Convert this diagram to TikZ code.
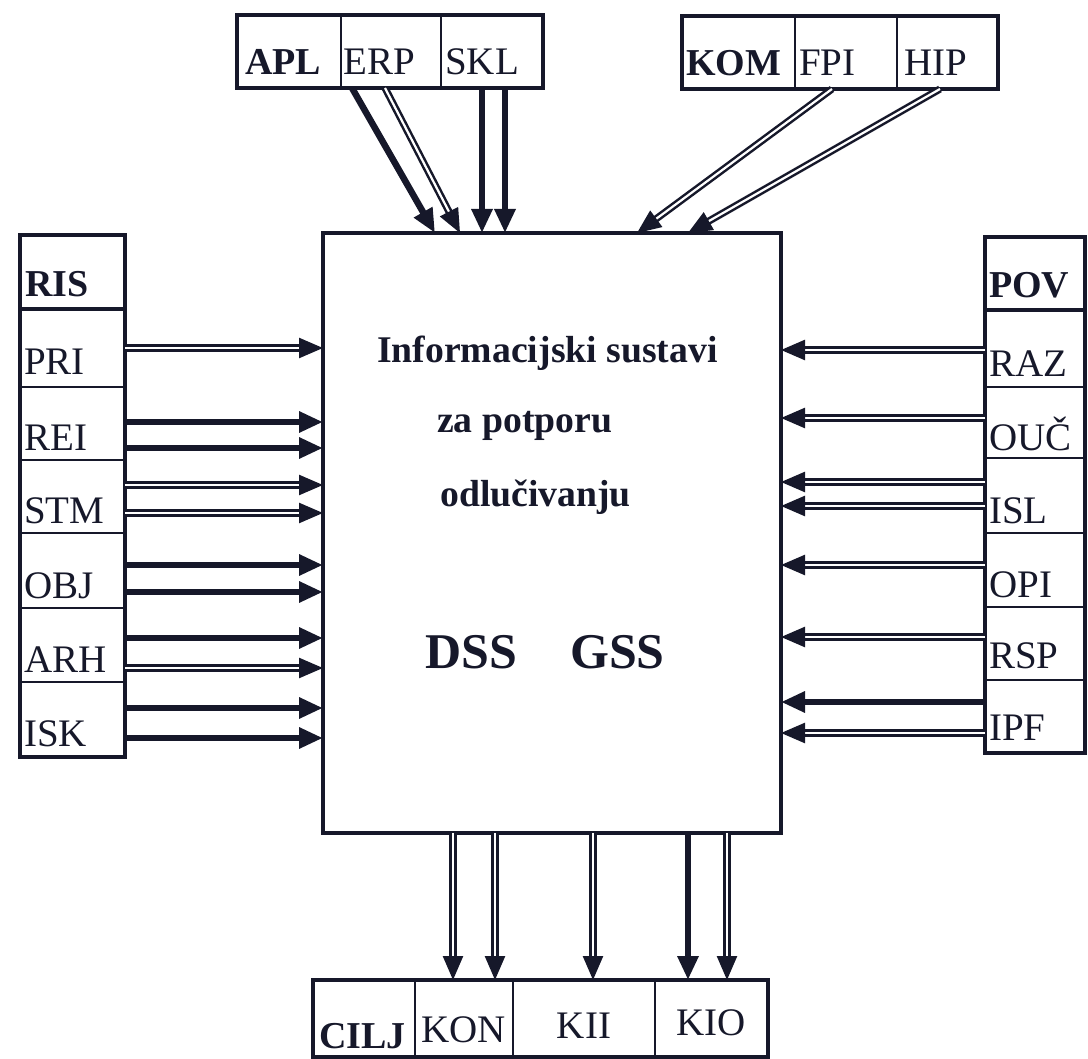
\documentclass[tikz,border=0pt]{standalone}
\usepackage{fontspec}
\setmainfont{Liberation Serif}
\usetikzlibrary{arrows.meta}
\definecolor{ink}{HTML}{16182A}
\begin{document}
\begin{tikzpicture}[x=1pt,y=-1pt,
  cell/.style={draw=ink, line width=2.2pt, inner sep=0pt, outer sep=0pt, anchor=north west},
  frame/.style={draw=ink, line width=3.4pt, inner sep=0pt, outer sep=0pt, anchor=north west},
  lbl/.style={text=ink, font=\fontsize{39}{42}\selectfont, inner sep=0pt, anchor=base west},
  blbl/.style={lbl, font=\fontsize{38}{42}\selectfont\bfseries},
  ctxt/.style={text=ink, font=\fontsize{37.7}{40}\selectfont\bfseries, inner sep=0pt, anchor=base west},
  btxt/.style={text=ink, font=\fontsize{50}{54}\selectfont\bfseries, inner sep=0pt, anchor=base west},
  tipstyle/.style={-{Triangle[length=24pt 0 0, width=20pt 0 0]}},
  dbl/.style={draw=ink, double=white, double distance=2.2pt, line width=2.5pt, tipstyle},
  thk/.style={draw=ink, line width=6.5pt, tipstyle}
]
\useasboundingbox (0,0) rectangle (1088,1059);

% main box
\node[draw=ink, line width=4pt, minimum width=458, minimum height=600, anchor=north west, inner sep=0pt, outer sep=0pt] (main) at (323,233) {};
\node[ctxt] (t1) at (377,363) {Informacijski sustavi};
\node[ctxt] (t2) at (437,432) {za potporu};
\node[ctxt] (t3) at (440,507) {odlučivanju};
\node[btxt] (dss) at (425,668) {DSS};
\node[btxt] (gss) at (570,668) {GSS};

% RIS column
\node[frame, minimum width=105, minimum height=74] (ris) at (20,235) {};
\node[cell, minimum width=105, minimum height=78] (pri) at (20,309) {};
\node[cell, minimum width=105, minimum height=73] (rei) at (20,387) {};
\node[cell, minimum width=105, minimum height=73] (stm) at (20,460) {};
\node[cell, minimum width=105, minimum height=75] (obj) at (20,533) {};
\node[cell, minimum width=105, minimum height=74] (arh) at (20,608) {};
\node[cell, minimum width=105, minimum height=75] (isk) at (20,682) {};
\node[frame, minimum width=105, minimum height=522] (riscol) at (20,235) {};
\node[blbl] (tris) at (25,297) {RIS};
\node[lbl] (tpri) at (24,375) {PRI};
\node[lbl] (trei) at (24,450) {REI};
\node[lbl] (tstm) at (24,523) {STM};
\node[lbl] (tobj) at (24,598) {OBJ};
\node[lbl] (tarh) at (24,672) {ARH};
\node[lbl] (tisk) at (24,746) {ISK};

% POV column
\node[frame, minimum width=100, minimum height=73] (pov) at (985,237) {};
\node[cell, minimum width=100, minimum height=77] (raz) at (985,310) {};
\node[cell, minimum width=100, minimum height=71] (ouc) at (985,387) {};
\node[cell, minimum width=100, minimum height=75] (isl) at (985,458) {};
\node[cell, minimum width=100, minimum height=74] (opi) at (985,533) {};
\node[cell, minimum width=100, minimum height=73] (rsp) at (985,607) {};
\node[cell, minimum width=100, minimum height=73] (ipf) at (985,680) {};
\node[frame, minimum width=100, minimum height=516] (povcol) at (985,237) {};
\node[blbl] (tpov) at (989,298) {POV};
\node[lbl] (traz) at (989,377) {RAZ};
\node[lbl] (touc) at (989,450) {OUČ};
\node[lbl] (tisl) at (989,523) {ISL};
\node[lbl] (topi) at (989,597) {OPI};
\node[lbl] (trsp) at (989,668) {RSP};
\node[lbl] (tipf) at (989,740) {IPF};

% APL box
\node[cell, minimum width=104, minimum height=73] (apl) at (237,15) {};
\node[cell, minimum width=100, minimum height=73] (erp) at (341,15) {};
\node[cell, minimum width=102, minimum height=73] (skl) at (441,15) {};
\node[frame, minimum width=306, minimum height=73] (aplbox) at (237,15) {};
\node[blbl] (tapl) at (245,75) {APL};
\node[lbl] (terp) at (343,75) {ERP};
\node[lbl] (tskl) at (445,75) {SKL};

% KOM box
\node[cell, minimum width=113, minimum height=73] (kom) at (682,16) {};
\node[cell, minimum width=102, minimum height=73] (fpi) at (795,16) {};
\node[cell, minimum width=101, minimum height=73] (hip) at (897,16) {};
\node[frame, minimum width=316, minimum height=73] (kombox) at (682,16) {};
\node[blbl] (tkom) at (686,76) {KOM};
\node[lbl] (tfpi) at (799,76) {FPI};
\node[lbl] (thip) at (904,76) {HIP};

% CILJ box
\node[cell, minimum width=102, minimum height=77] (cilj) at (313,980) {};
\node[cell, minimum width=98, minimum height=77] (kon) at (415,980) {};
\node[cell, minimum width=142, minimum height=77] (kii) at (513,980) {};
\node[cell, minimum width=113, minimum height=77] (kio) at (655,980) {};
\node[frame, minimum width=455, minimum height=77] (ciljbox) at (313,980) {};
\node[blbl] (tcilj) at (319,1048) {CILJ};
\node[lbl] (tkon) at (421,1042) {KON};
\node[lbl, anchor=base] (tkii) at (584,1038) {KII};
\node[lbl, anchor=base] (tkio) at (711,1035) {KIO};

% top arrows
\draw[thk] (352,0 |- erp.south) -- (435,0 |- main.north);
\draw[dbl] (385,0 |- erp.south) -- (460,0 |- main.north);
\draw[thk] (482,0 |- skl.south) -- (482,0 |- main.north);
\draw[thk] (505,0 |- skl.south) -- (505,0 |- main.north);
\draw[dbl] (832,0 |- fpi.south) -- (637,0 |- main.north);
\draw[dbl] (940,0 |- hip.south) -- (688,0 |- main.north);

% left arrows
\draw[dbl] (pri.east |- 0,348) -- (main.west |- 0,348);
\draw[thk] (rei.east |- 0,422) -- (main.west |- 0,422);
\draw[thk] (rei.east |- 0,448) -- (main.west |- 0,448);
\draw[dbl] (stm.east |- 0,485) -- (main.west |- 0,485);
\draw[dbl] (stm.east |- 0,513) -- (main.west |- 0,513);
\draw[thk] (obj.east |- 0,565) -- (main.west |- 0,565);
\draw[thk] (obj.east |- 0,592) -- (main.west |- 0,592);
\draw[thk] (arh.east |- 0,638) -- (main.west |- 0,638);
\draw[dbl] (arh.east |- 0,668) -- (main.west |- 0,668);
\draw[thk] (isk.east |- 0,708) -- (main.west |- 0,708);
\draw[thk] (isk.east |- 0,738) -- (main.west |- 0,738);

% right arrows
\draw[dbl] (raz.west |- 0,350) -- (main.east |- 0,350);
\draw[dbl] (ouc.west |- 0,418) -- (main.east |- 0,418);
\draw[dbl] (isl.west |- 0,482) -- (main.east |- 0,482);
\draw[dbl] (isl.west |- 0,506) -- (main.east |- 0,506);
\draw[dbl] (opi.west |- 0,565) -- (main.east |- 0,565);
\draw[dbl] (rsp.west |- 0,637) -- (main.east |- 0,637);
\draw[thk] (ipf.west |- 0,702) -- (main.east |- 0,702);
\draw[dbl] (ipf.west |- 0,733) -- (main.east |- 0,733);

% bottom arrows
\draw[dbl] (453,0 |- main.south) -- (453,0 |- kon.north);
\draw[dbl] (495,0 |- main.south) -- (495,0 |- kon.north);
\draw[dbl] (593,0 |- main.south) -- (593,0 |- kii.north);
\draw[thk] (688,0 |- main.south) -- (688,0 |- kio.north);
\draw[dbl] (727,0 |- main.south) -- (727,0 |- kio.north);
\end{tikzpicture}
\end{document}
